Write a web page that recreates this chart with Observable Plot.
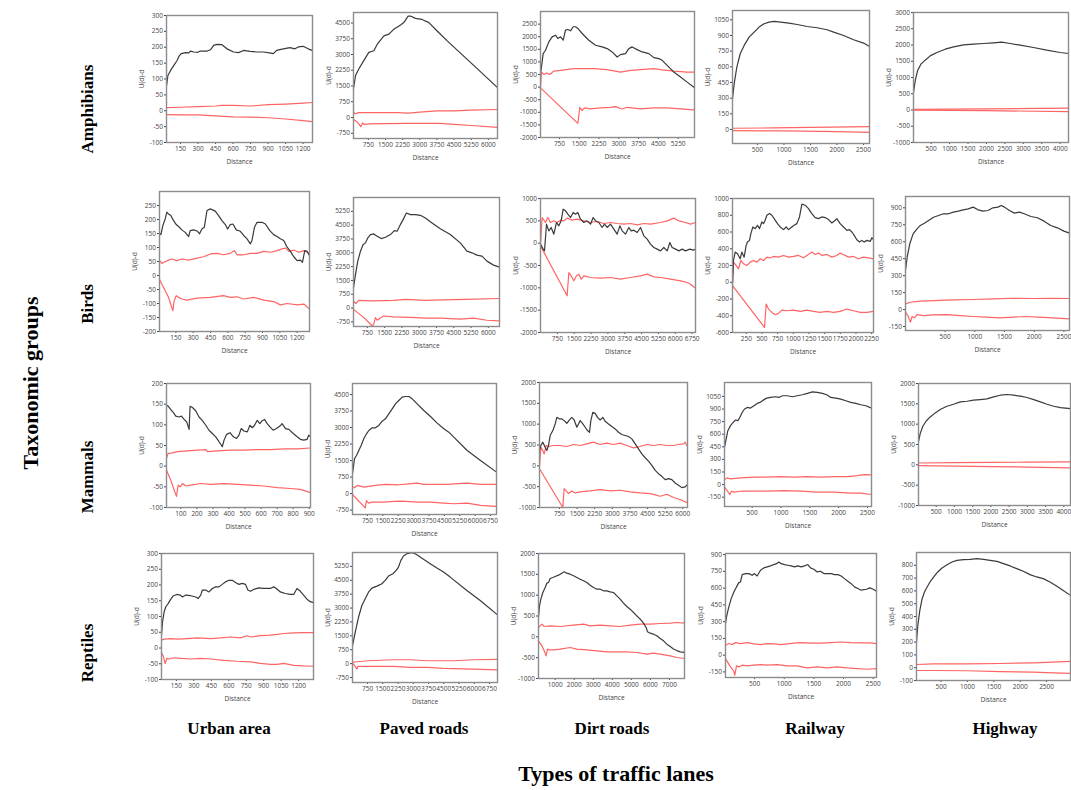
<!DOCTYPE html>
<html><head><meta charset="utf-8">
<script src="https://cdn.jsdelivr.net/npm/d3@7"></script>
<script src="https://cdn.jsdelivr.net/npm/@observablehq/plot@0.6"></script>
<style>
html,body{margin:0;padding:0;background:#fff;}
#root{position:relative;width:1071px;height:790px;overflow:hidden;background:#fff;}
#root svg{position:absolute;overflow:visible;}
.t{position:absolute;font-family:"Liberation Serif","Times New Roman",serif;font-weight:bold;color:#000;white-space:nowrap;transform:translate(-50%,-50%);}
.rot{transform:translate(-50%,-50%) rotate(-90deg);}
</style></head>
<body><div id="root"></div>
<script>
// ---------- text ----------
const groups = ["Amphibians", "Birds", "Mammals", "Reptiles"];
const lanes = ["Urban area", "Paved roads", "Dirt roads", "Railway", "Highway"];
const groupTitle = "Taxonomic groups";
const laneTitle = "Types of traffic lanes";
const xLabel = "Distance";
const yLabel = "U(d)-d";

// ---------- tick labels ----------
const ticks150to1200 = [150, 300, 450, 600, 750, 900, 1050, 1200];
const ticks750to6000 = [750, 1500, 2250, 3000, 3750, 4500, 5250, 6000];
const ticks750to6750 = [750, 1500, 2250, 3000, 3750, 4500, 5250, 6000, 6750];
const ticks750to5250 = [750, 1500, 2250, 3000, 3750, 4500, 5250];
const ticks500to2500 = [500, 1000, 1500, 2000, 2500];
const ticks500to4000 = [500, 1000, 1500, 2000, 2500, 3000, 3500, 4000];
const ticks250to2250 = [250, 500, 750, 1000, 1250, 1500, 1750, 2000, 2250];
const ticks100to900 = [100, 200, 300, 400, 500, 600, 700, 800, 900];
const ticks1000to7000 = [1000, 2000, 3000, 4000, 5000, 6000, 7000];

const yTicksM100to300 = [-100, -50, 0, 50, 100, 150, 200, 250, 300];
const yTicksM750to4500 = [-750, 0, 750, 1500, 2250, 3000, 3750, 4500];
const yTicksM2000to2500 = [-2000, -1500, -1000, -500, 0, 500, 1000, 1500, 2000, 2500];
const yTicks0to1050 = [0, 150, 300, 450, 600, 750, 900, 1050];
const yTicksM1000to3000 = [-1000, -500, 0, 500, 1000, 1500, 2000, 2500, 3000];
const yTicksM200to250 = [-200, -150, -100, -50, 0, 50, 100, 150, 200, 250];
const yTicksM750to5250 = [-750, 0, 750, 1500, 2250, 3000, 3750, 4500, 5250];
const yTicksM2000to1000 = [-2000, -1500, -1000, -500, 0, 500, 1000];
const yTicksM600to1000 = [-600, -400, -200, 0, 200, 400, 600, 800, 1000];
const yTicksM150to900 = [-150, 0, 150, 300, 450, 600, 750, 900];
const yTicksM100to200 = [-100, -50, 0, 50, 100, 150, 200];
const yTicksM1000to2000 = [-1000, -500, 0, 500, 1000, 1500, 2000];
const yTicksM150to1050 = [-150, 0, 150, 300, 450, 600, 750, 900, 1050];
const yTicksM100to800 = [-100, 0, 100, 200, 300, 400, 500, 600, 700, 800];

// ---------- series: [distance, value] ----------
// Amphibians
const amphUrbanObs = [[31,80],[42,111],[65,127],[93,143],[122,159],[136,171],[156,180],[193,183],[221,182],[235,188],[264,185],[298,184],[320,188],[377,188],[406,192],[434,206],[462,209],[505,208],[548,195],[604,185],[647,183],[689,190],[746,187],[803,185],[860,185],[911,182],[945,180],[973,190],[1030,195],[1087,199],[1129,195],[1158,201],[1200,203],[1243,195],[1277,190]];
const amphUrbanHi = [[31,10],[150,11],[300,13],[450,15],[500,17],[600,17],[750,15],[900,19],[1050,21],[1200,24],[1277,26]];
const amphUrbanLo = [[31,-12],[150,-13],[300,-13],[450,-16],[600,-19],[750,-20],[900,-22],[1050,-26],[1200,-31],[1277,-34]];

const amphPavedObs = [[100,1370],[190,2000],[330,2310],[550,2710],[770,3100],[990,3180],[1140,3490],[1430,3890],[1650,3970],[1860,4200],[2160,4410],[2300,4520],[2490,4830],[2590,4830],[2810,4720],[3100,4670],[3400,4520],[3760,4120],[4200,3650],[5300,2540],[6400,1420]];
const amphPavedHi = [[100,250],[180,170],[300,230],[1000,230],[2000,230],[2500,210],[3000,260],[3750,320],[4500,320],[5250,350],[6400,380]];
const amphPavedLo = [[100,-90],[250,-200],[420,-440],[500,-260],[560,-330],[800,-300],[1500,-290],[2500,-280],[3900,-280],[4500,-330],[5250,-380],[6400,-470]];

const amphDirtObs = [[30,560],[55,700],[131,1329],[220,1462],[346,1795],[472,1994],[599,2061],[687,1928],[788,1994],[890,1861],[978,2260],[1066,2287],[1168,2234],[1269,2394],[1357,2394],[1446,2327],[1610,2127],[1863,1861],[2116,1661],[2368,1595],[2558,1528],[2748,1395],[2937,1196],[3064,1289],[3253,1329],[3380,1528],[3506,1595],[3696,1488],[3885,1395],[4138,1329],[4328,1169],[4517,1129],[4644,1062],[4833,863],[5086,597],[5339,397],[5592,197],[5870,-29]];
const amphDirtHi = [[30,-29],[68,597],[156,503],[258,557],[384,503],[536,637],[788,663],[1294,730],[1673,730],[2052,730],[2558,690],[3064,597],[3443,663],[3822,690],[4328,730],[4580,690],[5086,637],[5592,597],[5870,597]];
const amphDirtLo = [[30,-29],[1446,-1440],[1522,-801],[1610,-934],[1698,-827],[1926,-867],[2305,-827],[2684,-801],[2874,-774],[3127,-867],[3316,-801],[3822,-867],[4328,-827],[4833,-827],[5339,-867],[5870,-907]];

const amphRailObs = [[31,296],[62,439],[112,598],[175,725],[250,805],[343,884],[437,932],[531,980],[625,1012],[718,1028],[812,1034],[937,1028],[1093,1018],[1250,1005],[1437,986],[1625,974],[1812,955],[1937,932],[2125,900],[2312,859],[2500,827],[2612,795]];
const amphRailHi = [[31,12],[800,15],[1500,20],[2612,28]];
const amphRailLo = [[31,-10],[1000,-14],[2000,-20],[2612,-27]];

const amphHwyObs = [[21,538],[66,897],[129,1205],[220,1410],[337,1533],[473,1666],[654,1769],[880,1871],[1106,1943],[1377,2005],[1648,2025],[1919,2046],[2190,2066],[2416,2087],[2642,2046],[2913,1995],[3274,1923],[3636,1841],[3998,1769],[4224,1738]];
const amphHwyHi = [[21,20],[2000,35],[4224,55]];
const amphHwyLo = [[21,-5],[2000,-20],[4224,-50]];

// Birds
const birdUrbanObs = [[8,151],[20,146],[37,178],[57,202],[72,226],[86,220],[106,214],[130,196],[153,182],[173,175],[202,163],[231,154],[260,139],[274,160],[303,163],[338,158],[355,149],[375,166],[396,172],[419,232],[448,238],[491,230],[520,214],[549,196],[578,182],[598,166],[621,182],[644,184],[673,163],[708,158],[737,143],[766,131],[795,113],[809,125],[830,172],[853,190],[896,190],[925,184],[963,160],[997,146],[1026,139],[1055,131],[1084,125],[1113,101],[1142,86],[1171,67],[1200,53],[1229,55],[1246,47],[1266,89],[1287,86],[1307,71]];
const birdUrbanHi = [[8,53],[28,43],[57,49],[86,55],[115,59],[158,53],[202,59],[260,55],[332,62],[390,67],[448,77],[506,79],[563,74],[621,79],[656,89],[679,74],[737,74],[795,79],[853,79],[911,86],[968,83],[1026,89],[1070,95],[1099,98],[1128,86],[1171,91],[1214,83],[1258,89],[1307,79]];
const birdUrbanLo = [[8,-13],[43,-43],[86,-78],[124,-126],[135,-90],[153,-72],[173,-78],[202,-84],[245,-88],[332,-81],[448,-78],[563,-72],[621,-78],[679,-76],[737,-84],[824,-78],[911,-88],[997,-93],[1055,-105],[1113,-100],[1200,-105],[1258,-102],[1307,-120]];

const birdPavedObs = [[150,1105],[237,1826],[336,2547],[453,3088],[570,3448],[670,3538],[770,3808],[886,3989],[1030,4025],[1176,3899],[1349,3772],[1536,3844],[1752,3989],[1925,4205],[2042,4169],[2185,4529],[2302,4799],[2445,5160],[2618,5070],[2835,5070],[3051,5034],[3268,4890],[3558,4619],[3917,4300],[4350,3989],[4783,3538],[5073,3088],[5290,2998],[5506,2871],[5723,2817],[5940,2547],[6225,2331],[6485,2223]];
const birdPavedHi = [[150,380],[240,250],[380,420],[900,390],[1900,420],[2400,470],[3300,420],[4000,440],[5000,470],[6485,520]];
const birdPavedLo = [[150,-70],[600,-520],[970,-970],[1030,-870],[1100,-520],[1180,-660],[1290,-550],[1460,-430],[1900,-480],[2600,-510],[3340,-550],[3920,-550],[4780,-600],[5360,-550],[5940,-660],[6485,-700]];

const birdDirtObs = [[0,-22],[119,-134],[178,-172],[267,425],[371,276],[475,351],[594,201],[712,463],[816,388],[920,500],[1009,761],[1113,724],[1217,649],[1336,575],[1454,687],[1558,649],[1662,687],[1781,537],[1929,463],[2078,500],[2226,425],[2345,575],[2449,500],[2597,463],[2745,351],[2849,425],[2968,351],[3116,425],[3265,313],[3413,201],[3532,388],[3636,276],[3784,201],[3933,351],[4036,276],[4155,291],[4304,239],[4452,351],[4600,164],[4749,90],[4897,-22],[5046,-97],[5194,-134],[5342,-172],[5491,-97],[5639,-172],[5758,15],[5862,-97],[6010,-134],[6159,-172],[6307,-134],[6455,-172],[6648,-134],[6797,-157],[6900,-134]];
const birdDirtHi = [[0,-22],[74,575],[223,463],[326,575],[445,463],[594,500],[742,463],[890,515],[1039,500],[1187,560],[1410,515],[1632,537],[1929,500],[2226,463],[2523,485],[2820,440],[3116,463],[3413,440],[3710,425],[4007,440],[4304,410],[4600,440],[4897,425],[5342,463],[5639,500],[5936,560],[6159,500],[6455,463],[6678,425],[6900,463]];
const birdDirtLo = [[0,-60],[1187,-1179],[1261,-657],[1365,-731],[1484,-843],[1603,-731],[1707,-694],[1810,-806],[1929,-731],[2226,-769],[2671,-784],[3116,-769],[3562,-806],[4007,-769],[4452,-731],[4749,-694],[5046,-754],[5342,-769],[5788,-806],[6233,-843],[6529,-881],[6678,-918],[6900,-1008]];

const birdRailObs = [[30,-20],[46,260],[73,360],[110,340],[152,280],[179,360],[216,300],[248,440],[269,480],[301,500],[323,580],[355,660],[392,640],[429,680],[461,640],[498,720],[525,700],[551,740],[578,800],[621,820],[658,800],[695,760],[748,700],[791,660],[844,628],[887,660],[924,628],[977,660],[1014,680],[1057,700],[1099,780],[1137,932],[1190,920],[1243,880],[1296,820],[1349,772],[1403,760],[1456,780],[1509,772],[1562,748],[1615,708],[1669,740],[1695,760],[1748,700],[1802,660],[1855,620],[1897,628],[1935,600],[1972,560],[2014,508],[2057,480],[2094,500],[2131,480],[2174,500],[2227,488],[2254,532],[2280,508]];
const birdRailHi = [[30,-40],[46,240],[89,200],[126,160],[163,260],[206,220],[259,200],[312,240],[365,260],[418,240],[472,280],[525,260],[578,300],[631,292],[684,308],[764,300],[844,320],[924,300],[1004,308],[1083,320],[1163,292],[1216,320],[1296,360],[1349,332],[1403,348],[1456,320],[1536,332],[1615,300],[1695,320],[1748,348],[1802,332],[1881,300],[1961,308],[2041,280],[2121,300],[2201,292],[2280,280]];
const birdRailLo = [[30,-40],[541,-540],[567,-260],[605,-320],[658,-360],[711,-388],[764,-372],[817,-332],[897,-340],[1004,-332],[1110,-348],[1216,-332],[1323,-348],[1429,-360],[1536,-348],[1642,-360],[1748,-348],[1855,-320],[1961,-340],[2067,-360],[2174,-360],[2280,-348]];

const birdHwyObs = [[-167,346],[-139,464],[-95,582],[-39,670],[27,714],[83,744],[150,764],[222,788],[305,817],[389,832],[472,847],[555,847],[639,862],[722,871],[805,882],[889,891],[972,906],[1055,882],[1139,871],[1222,876],[1305,900],[1389,906],[1444,921],[1500,906],[1583,876],[1666,853],[1750,862],[1833,847],[1944,823],[2055,812],[2166,782],[2278,744],[2389,723],[2500,694],[2594,676]];
const birdHwyHi = [[-167,51],[-84,65],[83,74],[305,80],[639,86],[972,89],[1305,95],[1639,100],[1972,98],[2305,100],[2594,98]];
const birdHwyLo = [[-167,-23],[-128,-53],[-84,-111],[-56,-61],[-17,-73],[27,-44],[139,-53],[305,-47],[528,-44],[750,-53],[972,-61],[1194,-67],[1416,-73],[1639,-67],[1861,-61],[2083,-67],[2305,-73],[2594,-82]];

// Mammals
const mammUrbanObs = [[10,148],[20,145],[37,137],[54,129],[68,121],[89,119],[103,121],[120,113],[136,107],[151,89],[157,145],[172,142],[192,134],[213,119],[234,110],[255,99],[275,87],[296,79],[317,71],[331,63],[348,53],[358,47],[369,63],[385,77],[406,81],[427,71],[447,67],[462,75],[476,91],[493,85],[514,83],[530,99],[545,93],[559,99],[576,111],[592,103],[607,110],[622,113],[638,103],[655,95],[675,87],[696,91],[717,97],[731,103],[752,91],[773,89],[800,79],[825,71],[845,65],[866,63],[887,65],[897,75],[908,71]];
const mammUrbanHi = [[10,19],[20,31],[47,32],[78,35],[141,37],[203,39],[255,40],[265,35],[327,37],[410,39],[493,39],[576,40],[659,40],[742,42],[825,42],[908,44]];
const mammUrbanLo = [[10,-10],[37,-34],[58,-58],[72,-73],[83,-46],[95,-50],[110,-42],[130,-48],[161,-46],[224,-42],[286,-44],[369,-42],[452,-44],[534,-46],[617,-48],[700,-52],[783,-54],[845,-56],[908,-64]];

const mammPavedObs = [[20,899],[117,1580],[215,1731],[327,1958],[441,2185],[571,2488],[702,2715],[815,2866],[980,2987],[1141,2987],[1302,3093],[1468,3290],[1629,3396],[1790,3622],[1955,3849],[2116,4076],[2277,4228],[2443,4379],[2604,4409],[2765,4409],[2930,4303],[3174,4076],[3496,3774],[3822,3501],[4149,3199],[4471,2942],[4715,2790],[4958,2563],[5610,1958],[6260,1504],[7040,975]];
const mammPavedHi = [[20,324],[117,264],[249,370],[571,294],[800,324],[1141,370],[1629,415],[2277,400],[2765,445],[3174,475],[3496,415],[4149,415],[4715,415],[4958,445],[5610,475],[6260,415],[7040,415]];
const mammPavedLo = [[20,-40],[640,-650],[700,-320],[800,-430],[960,-390],[1546,-387],[2033,-357],[2443,-342],[3174,-387],[3822,-387],[4471,-432],[4958,-462],[5610,-432],[6260,-538],[7040,-584]];

const mammDirtObs = [[-100,369],[-43,488],[42,568],[141,448],[212,369],[283,488],[354,727],[468,846],[567,1005],[638,1164],[751,1125],[851,1125],[950,1085],[1064,1021],[1177,1101],[1276,1164],[1376,1101],[1489,926],[1560,1005],[1631,1085],[1745,1005],[1844,926],[1943,846],[2029,806],[2085,1085],[2170,1284],[2270,1260],[2369,1164],[2483,1101],[2596,1164],[2695,1069],[2837,1005],[2979,942],[3121,886],[3263,806],[3405,751],[3547,727],[3689,703],[3831,647],[3973,528],[4114,408],[4256,289],[4398,194],[4540,114],[4682,11],[4824,-109],[4966,-188],[5108,-252],[5250,-332],[5392,-308],[5533,-332],[5675,-411],[5817,-467],[5959,-523],[6101,-507],[6200,-443]];
const mammDirtHi = [[-100,-29],[-43,448],[42,369],[99,289],[184,488],[283,464],[496,488],[780,488],[1064,464],[1347,512],[1631,488],[1915,528],[2199,568],[2483,512],[2766,544],[3050,512],[3334,544],[3618,488],[3902,432],[4186,464],[4469,512],[4753,488],[5037,512],[5321,488],[5604,488],[5817,512],[6030,528],[6101,568],[6200,464]];
const mammDirtLo = [[-100,-69],[893,-1000],[950,-547],[1035,-602],[1135,-666],[1276,-602],[1418,-650],[1631,-626],[2057,-602],[2483,-570],[2908,-602],[3334,-586],[3760,-626],[4186,-650],[4611,-666],[5037,-730],[5321,-682],[5604,-761],[5888,-809],[6200,-889]];

const mammRailObs = [[20,444],[43,523],[78,642],[124,702],[171,741],[211,769],[252,761],[287,801],[327,860],[368,900],[414,919],[472,911],[530,939],[588,967],[634,979],[692,1006],[750,1030],[820,1038],[907,1046],[965,1038],[1023,1058],[1110,1058],[1197,1046],[1284,1058],[1371,1070],[1458,1086],[1545,1105],[1632,1098],[1719,1086],[1794,1070],[1863,1038],[1950,1030],[2037,1018],[2124,999],[2211,979],[2298,967],[2385,951],[2472,939],[2570,911]];
const mammRailHi = [[20,56],[66,80],[124,68],[298,80],[530,88],[762,88],[994,96],[1226,88],[1458,96],[1690,88],[1921,96],[2153,96],[2327,107],[2443,119],[2570,115]];
const mammRailLo = [[20,-31],[66,-71],[113,-118],[142,-79],[182,-90],[298,-79],[472,-79],[762,-79],[1052,-71],[1342,-79],[1632,-90],[1921,-90],[2211,-102],[2385,-102],[2570,-118]];

const mammHwyObs = [[14,562],[60,767],[133,948],[225,1079],[335,1178],[472,1277],[609,1359],[793,1441],[976,1490],[1159,1548],[1342,1564],[1525,1589],[1709,1605],[1892,1622],[2075,1671],[2258,1712],[2441,1729],[2625,1712],[2808,1688],[2991,1655],[3174,1605],[3357,1548],[3541,1490],[3724,1441],[3907,1408],[4182,1384]];
const mammHwyHi = [[14,45],[1000,55],[2000,60],[3000,65],[4182,75]];
const mammHwyLo = [[14,-20],[1000,-30],[2000,-45],[3000,-55],[4182,-75]];

// Reptiles
const reptUrbanObs = [[22,41],[31,83],[45,115],[59,131],[79,141],[102,155],[125,166],[153,170],[182,168],[202,162],[230,168],[273,166],[316,162],[336,157],[359,168],[373,184],[401,184],[430,178],[459,189],[487,194],[516,194],[544,202],[573,210],[601,215],[630,215],[658,208],[687,202],[715,205],[744,202],[764,184],[787,180],[821,187],[858,191],[895,189],[929,189],[958,189],[986,194],[1009,189],[1043,178],[1086,173],[1129,170],[1158,170],[1186,189],[1215,180],[1243,168],[1272,155],[1300,147],[1329,144]];
const reptUrbanHi = [[22,25],[45,28],[102,30],[159,28],[245,30],[330,32],[444,30],[530,32],[615,35],[701,32],[758,39],[787,35],[872,39],[958,41],[1015,43],[1072,46],[1158,48],[1243,49],[1329,49]];
const reptUrbanLo = [[22,-14],[39,-28],[53,-49],[68,-33],[88,-35],[130,-31],[187,-33],[273,-35],[359,-33],[444,-35],[558,-39],[672,-42],[787,-44],[872,-49],[958,-52],[1015,-52],[1072,-49],[1158,-55],[1243,-57],[1329,-58]];

const reptPavedObs = [[10,967],[143,1690],[305,2503],[472,3136],[635,3497],[797,3859],[964,4075],[1210,4184],[1456,4310],[1619,4491],[1781,4726],[1998,4852],[2160,5033],[2273,5214],[2391,5575],[2519,5810],[2686,5937],[2849,5973],[3011,5973],[3178,5883],[3503,5630],[3833,5395],[4163,5160],[4487,4943],[4817,4672],[5638,3949],[6293,3407],[7144,2630]];
const reptPavedHi = [[10,64],[220,100],[800,154],[2000,208],[2850,208],[3670,154],[4490,154],[4980,154],[5950,208],[7144,230]];
const reptPavedLo = [[10,27],[143,-153],[226,-297],[275,-153],[389,-153],[1210,-153],[2027,-153],[2849,-207],[3670,-207],[4487,-261],[5500,-280],[7144,-334]];

const reptDirtObs = [[125,464],[178,744],[248,904],[353,1064],[475,1184],[563,1288],[650,1304],[738,1400],[878,1424],[1000,1448],[1175,1480],[1350,1528],[1473,1560],[1613,1528],[1788,1504],[1963,1464],[2138,1424],[2313,1384],[2488,1344],[2663,1304],[2838,1240],[3013,1184],[3188,1144],[3363,1144],[3538,1104],[3713,1104],[3888,1080],[4063,1064],[4238,984],[4413,904],[4588,808],[4763,728],[4938,664],[5113,584],[5288,504],[5463,424],[5638,328],[5778,224],[5848,120],[5988,88],[6163,64],[6338,24],[6513,-40],[6688,-96],[6863,-176],[7038,-232],[7213,-290],[7388,-330],[7563,-360],[7790,-375]];
const reptDirtHi = [[125,224],[213,264],[300,304],[423,248],[738,264],[1263,248],[1963,280],[2488,304],[2838,264],[3363,280],[3888,264],[4413,248],[4938,280],[5463,304],[5988,304],[6513,320],[7038,328],[7388,344],[7790,328]];
const reptDirtLo = [[125,-96],[300,-216],[423,-336],[528,-456],[598,-296],[703,-312],[913,-312],[1263,-296],[1788,-256],[2138,-296],[2663,-312],[3188,-336],[3713,-360],[4238,-360],[4763,-360],[5288,-376],[5813,-416],[6163,-392],[6513,-416],[7038,-456],[7388,-496],[7790,-520]];

const reptRailObs = [[10,283],[27,342],[66,432],[106,506],[151,566],[195,611],[235,649],[263,655],[291,721],[347,730],[403,730],[460,715],[499,730],[544,709],[600,760],[656,781],[713,790],[769,799],[825,811],[870,819],[909,834],[949,819],[1005,811],[1061,805],[1117,799],[1173,790],[1230,799],[1286,790],[1342,799],[1398,811],[1443,781],[1499,769],[1556,745],[1612,751],[1668,730],[1724,730],[1792,730],[1848,721],[1904,721],[1960,709],[2016,685],[2073,661],[2129,640],[2185,611],[2241,596],[2297,581],[2342,587],[2387,590],[2443,602],[2500,590],[2556,572]];
const reptRailHi = [[10,89],[66,104],[122,95],[179,112],[263,104],[375,112],[488,101],[600,95],[713,104],[825,101],[937,95],[1050,101],[1162,107],[1275,112],[1443,107],[1612,107],[1780,112],[1949,118],[2117,112],[2286,110],[2455,110],[2556,104]];
const reptRailLo = [[10,-31],[94,-105],[151,-144],[167,-180],[195,-96],[235,-105],[291,-90],[375,-96],[488,-90],[600,-84],[713,-90],[881,-84],[1050,-96],[1218,-96],[1387,-114],[1556,-105],[1724,-114],[1893,-105],[2061,-114],[2230,-120],[2399,-126],[2556,-120]];

const reptHwyObs = [[35,200],[60,330],[98,448],[142,539],[186,591],[236,630],[299,675],[362,709],[437,748],[519,779],[614,805],[708,826],[802,839],[928,844],[1054,847],[1180,852],[1305,847],[1431,839],[1557,831],[1683,813],[1808,795],[1934,774],[2060,753],[2186,727],[2312,709],[2437,696],[2563,670],[2689,638],[2815,604],[2953,565]];
const reptHwyHi = [[35,25],[362,30],[991,30],[1620,33],[2249,38],[2953,49]];
const reptHwyLo = [[35,-22],[362,-22],[991,-24],[1620,-30],[2249,-35],[2626,-40],[2953,-45]];

// ---------- panel configuration (layout: frame box on page) ----------
const panels = [
  {obs: amphUrbanObs, hi: amphUrbanHi, lo: amphUrbanLo, xd: [30, 1280], yd: [-100, 300], xt: ticks150to1200, yt: yTicksM100to300, box: [166, 15, 312, 142]},
  {obs: amphPavedObs, hi: amphPavedHi, lo: amphPavedLo, xd: [100, 6400], yd: [-1000, 5000], xt: ticks750to6000, yt: yTicksM750to4500, box: [353, 12, 497, 138]},
  {obs: amphDirtObs, hi: amphDirtHi, lo: amphDirtLo, xd: [30, 5870], yd: [-2000, 3000], xt: ticks750to5250, yt: yTicksM2000to2500, box: [540, 11, 694, 137]},
  {obs: amphRailObs, hi: amphRailHi, lo: amphRailLo, xd: [30, 2612], yd: [-134, 1139], xt: ticks500to2500, yt: yTicks0to1050, box: [732, 10, 869, 143]},
  {obs: amphHwyObs, hi: amphHwyHi, lo: amphHwyLo, xd: [20, 4226], yd: [-1000, 3000], xt: ticks500to4000, yt: yTicksM1000to3000, box: [913, 12, 1068, 142]},

  {obs: birdUrbanObs, hi: birdUrbanHi, lo: birdUrbanLo, xd: [8, 1307], yd: [-200, 300], xt: ticks150to1200, yt: yTicksM200to250, box: [159, 191, 309, 331]},
  {obs: birdPavedObs, hi: birdPavedHi, lo: birdPavedLo, xd: [150, 6485], yd: [-1000, 6000], xt: ticks750to6000, yt: yTicksM750to5250, box: [353, 197, 499, 326]},
  {obs: birdDirtObs, hi: birdDirtHi, lo: birdDirtLo, xd: [0, 6900], yd: [-2000, 1000], xt: ticks750to6750, yt: yTicksM2000to1000, box: [540, 198, 695, 332]},
  {obs: birdRailObs, hi: birdRailHi, lo: birdRailLo, xd: [30, 2280], yd: [-600, 1000], xt: ticks250to2250, yt: yTicksM600to1000, box: [732, 198, 873, 332]},
  {obs: birdHwyObs, hi: birdHwyHi, lo: birdHwyLo, xd: [-167, 2594], yd: [-185, 1000], xt: ticks500to2500, yt: yTicksM150to900, box: [905, 196, 1069, 330]},

  {obs: mammUrbanObs, hi: mammUrbanHi, lo: mammUrbanLo, xd: [10, 908], yd: [-100, 200], xt: ticks100to900, yt: yTicksM100to200, box: [166, 383, 310, 507]},
  {obs: mammPavedObs, hi: mammPavedHi, lo: mammPavedLo, xd: [20, 7040], yd: [-950, 5000], xt: ticks750to6750, yt: yTicksM750to4500, box: [352, 383, 496, 514]},
  {obs: mammDirtObs, hi: mammDirtHi, lo: mammDirtLo, xd: [-100, 6200], yd: [-1000, 2000], xt: ticks750to6000, yt: yTicksM1000to2000, box: [539, 382, 687, 507]},
  {obs: mammRailObs, hi: mammRailHi, lo: mammRailLo, xd: [20, 2570], yd: [-261, 1216], xt: ticks500to2500, yt: yTicksM150to1050, box: [724, 382, 871, 506]},
  {obs: mammHwyObs, hi: mammHwyHi, lo: mammHwyLo, xd: [14, 4183], yd: [-1000, 2000], xt: ticks500to4000, yt: yTicksM1000to2000, box: [918, 383, 1070, 505]},

  {obs: reptUrbanObs, hi: reptUrbanHi, lo: reptUrbanLo, xd: [22, 1328], yd: [-100, 300], xt: ticks150to1200, yt: yTicksM100to300, box: [161, 553, 313, 679]},
  {obs: reptPavedObs, hi: reptPavedHi, lo: reptPavedLo, xd: [10, 7144], yd: [-1020, 6000], xt: ticks750to6750, yt: yTicksM750to5250, box: [352, 552, 497, 682]},
  {obs: reptDirtObs, hi: reptDirtHi, lo: reptDirtLo, xd: [125, 7790], yd: [-1000, 2000], xt: ticks1000to7000, yt: yTicksM1000to2000, box: [538, 553, 684, 678]},
  {obs: reptRailObs, hi: reptRailHi, lo: reptRailLo, xd: [10, 2556], yd: [-200, 910], xt: ticks500to2500, yt: yTicksM150to900, box: [725, 553, 876, 677]},
  {obs: reptHwyObs, hi: reptHwyHi, lo: reptHwyLo, xd: [35, 2953], yd: [-100, 900], xt: ticks500to2500, yt: yTicksM100to800, box: [916, 552, 1070, 680]}
];

const root = document.getElementById("root");
const fmt = d => String(d);
const X = d => d[0], Y = d => d[1];

for (const p of panels) {
  const [l, t, r, b] = p.box;
  const mL = 36, mR = 14, mT = 5, mB = 26;
  const chart = Plot.plot({
    width: r - l + mL + mR,
    height: b - t + mT + mB,
    marginLeft: mL, marginRight: mR, marginTop: mT, marginBottom: mB,
    style: {background: "transparent", color: "#444", fontFamily: "'Open Sans', 'Noto Sans', sans-serif", fontSize: "6.5px", overflow: "visible"},
    x: {domain: p.xd, ticks: p.xt, tickFormat: fmt, tickSize: 2, tickPadding: 1.5, label: xLabel, labelAnchor: "center", labelOffset: 21, labelArrow: "none"},
    y: {domain: p.yd, ticks: p.yt, tickFormat: fmt, tickSize: 2, tickPadding: 1.5, label: yLabel, labelAnchor: "center", labelOffset: 27, labelArrow: "none"},
    marks: [
      Plot.line(p.hi, {x: X, y: Y, stroke: "#ff6464", strokeWidth: 1.2}),
      Plot.line(p.lo, {x: X, y: Y, stroke: "#ff6464", strokeWidth: 1.2}),
      Plot.line(p.obs, {x: X, y: Y, stroke: "#3a3a3a", strokeWidth: 1.2}),
      Plot.frame({stroke: "#8c8c8c", strokeWidth: 1.4})
    ]
  });
  chart.style.left = (l - mL) + "px";
  chart.style.top = (t - mT) + "px";
  root.appendChild(chart);
}

function addText(txt, x, y, size, rotate) {
  const el = document.createElement("div");
  el.className = "t" + (rotate ? " rot" : "");
  el.textContent = txt;
  el.style.left = x + "px";
  el.style.top = y + "px";
  el.style.fontSize = size + "px";
  root.appendChild(el);
}
const groupCenters = [109, 304, 477, 653];
groups.forEach((g, i) => addText(g, 88, groupCenters[i], 17, true));
const laneCenters = [229, 424, 612, 815, 1005];
lanes.forEach((s, i) => addText(s, laneCenters[i], 729, 17, false));
addText(groupTitle, 31, 383, 22, true);
addText(laneTitle, 616, 774, 22, false);
</script>
</body></html>
